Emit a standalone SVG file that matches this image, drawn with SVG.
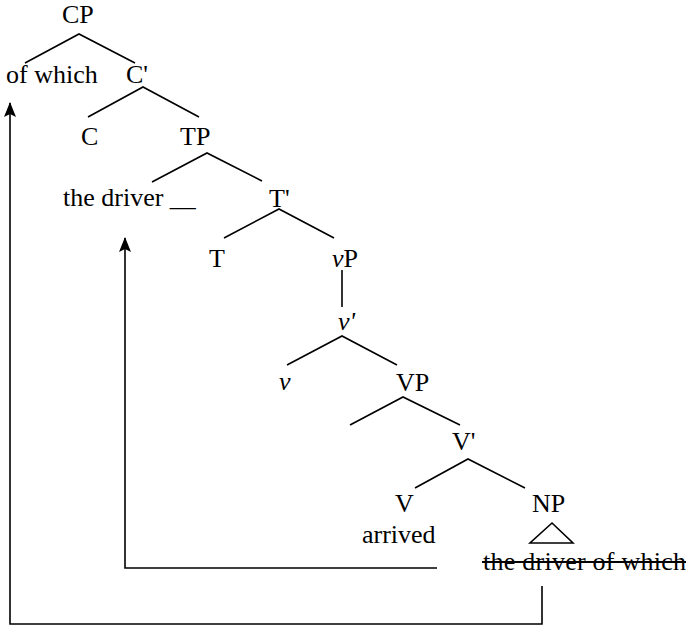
<svg xmlns="http://www.w3.org/2000/svg" width="686" height="626" viewBox="0 0 686 626">
<style>
text{font-family:"Liberation Serif","Times New Roman",serif;font-size:26px;fill:#000}
.i{font-style:italic}
.e{stroke:#000;stroke-width:1.6;fill:none}
.c{stroke:#000;stroke-width:1.6;fill:none}
</style>
<defs>
<marker id="ah" viewBox="0 0 15 12" refX="14" refY="6" markerWidth="15" markerHeight="12" markerUnits="userSpaceOnUse" orient="auto">
<path d="M0,0 L15,6 L0,12 L3,6 Z" fill="#000"/>
</marker>
</defs>
<rect width="686" height="626" fill="#fff"/>
<g id="edges">
<path class="e" d="M25,63 L79,34 L135,63"/>
<path class="e" d="M88,117 L143,87 L199,117"/>
<path class="e" d="M152,182 L207,153 L262,181"/>
<path class="e" d="M224,238 L279,209 L334,238"/>
<path class="e" d="M342,270 L342,307"/>
<path class="e" d="M287,365 L342,336 L397,365"/>
<path class="e" d="M350,425 L403,397 L460,425"/>
<path class="e" d="M415,488 L468,459 L525,488"/>
<path class="e" d="M552,523 L530,543 L573,543 Z"/>
</g>
<g id="n-CP"><text x="62" y="23">CP</text></g>
<g id="n-ofwhich"><text x="6" y="83">of which</text></g>
<g id="n-Cbar"><text x="126" y="83">C'</text></g>
<g id="n-C"><text x="81" y="145">C</text></g>
<g id="n-TP"><text x="180" y="145">TP</text></g>
<g id="n-thedriver"><text x="63" y="206">the driver __</text></g>
<g id="n-Tbar"><text x="269" y="207">T'</text></g>
<g id="n-T"><text x="209" y="267">T</text></g>
<g id="n-vP"><text x="332" y="267"><tspan class="i">v</tspan>P</text></g>
<g id="n-vbar"><text x="338" y="330" class="i">v'</text></g>
<g id="n-v"><text x="279" y="390" class="i">v</text></g>
<g id="n-VP"><text x="396" y="391">VP</text></g>
<g id="n-Vbar"><text x="452" y="450">V'</text></g>
<g id="n-V"><text x="395" y="512">V</text></g>
<g id="n-NP"><text x="532" y="512">NP</text></g>
<g id="n-arrived"><text x="362" y="543">arrived</text></g>
<g id="n-trace"><text x="483" y="570" textLength="203">the driver of which</text><line x1="482" y1="562" x2="686" y2="562" stroke="#000" stroke-width="2"/></g>
<g id="connectors">
<path class="c" d="M542,586 V624 H10 V103" marker-end="url(#ah)"/>
<path class="c" d="M437,568 H125 V238" marker-end="url(#ah)"/>
</g>
</svg>
